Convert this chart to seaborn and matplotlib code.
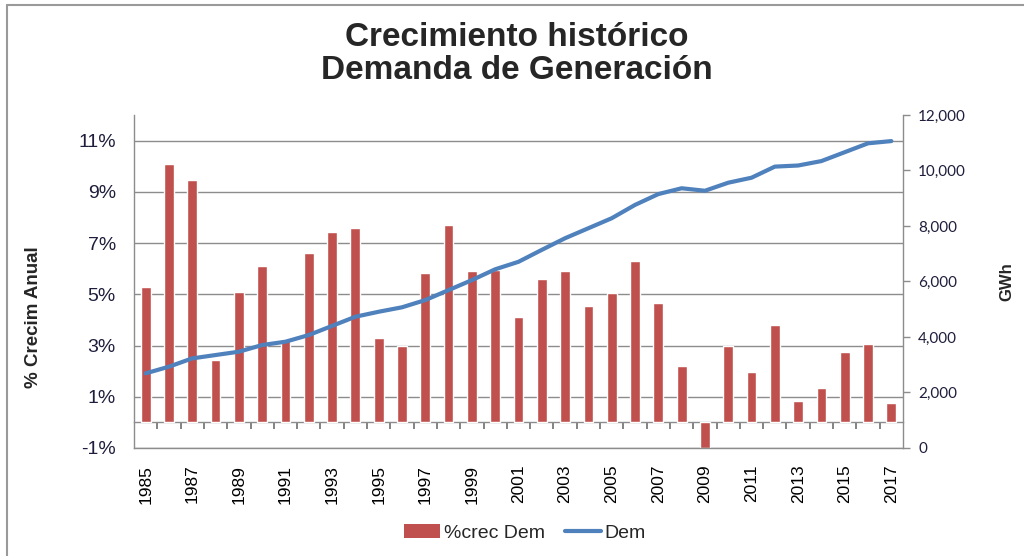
import numpy as np
import pandas as pd
import matplotlib
matplotlib.use("Agg")
import matplotlib.pyplot as plt
import seaborn as sns
from matplotlib.lines import Line2D
from matplotlib.patches import Patch
from matplotlib.ticker import FuncFormatter, FixedLocator

years = list(range(1985, 2018))
crec_pct = [5.3, 10.1, 9.45, 2.45, 5.1, 6.1, 3.2, 6.6, 7.45, 7.6, 3.3, 3.0,
            5.85, 7.7, 5.9, 5.95, 4.1, 5.6, 5.9, 4.55, 5.05, 6.3, 4.65, 2.2,
            -1.0, 3.0, 1.95, 3.8, 0.85, 1.35, 2.75, 3.05, 0.75]
dem_gwh = [2690, 2930, 3230, 3350, 3470, 3710, 3830, 4070, 4400, 4730, 4910,
           5070, 5330, 5690, 6050, 6440, 6710, 7140, 7560, 7920, 8280, 8760,
           9150, 9360, 9270, 9560, 9740, 10140, 10180, 10340, 10660, 10980, 11060]

title = "Crecimiento histórico\nDemanda de Generación"
ylabel_left = "% Crecim Anual"
ylabel_right = "GWh"
legend_labels = ["%crec Dem", "Dem"]

bar_color = "#C0504D"
line_color = "#4F81BD"
grid_color = "#8C8C8C"
tick_text = "#1E1E3C"

df = pd.DataFrame({"year": [str(y) for y in years], "crec": crec_pct,
                   "dem": dem_gwh})
df["pos"] = np.arange(len(df))

sns.set_theme(style="white")
plt.rcParams["font.family"] = ["Liberation Sans", "DejaVu Sans"]

fig = plt.figure(figsize=(10.24, 5.56), dpi=100)
ax = fig.add_axes([134 / 1024, 1 - 448 / 556, (903 - 134) / 1024, (448 - 115) / 556])

sns.barplot(data=df, x="year", y="crec", color=bar_color, saturation=1,
            width=0.42, ax=ax, zorder=2)
ax.set_ylim(-1, 12)
ax.set_xlim(-0.5, len(df) - 0.5)
ax.yaxis.set_major_locator(FixedLocator(np.arange(-1, 12, 2)))
ax.yaxis.set_major_formatter(FuncFormatter(lambda v, p: f"{v:.0f}%"))
ax.grid(axis="y", color=grid_color, linewidth=1.0, zorder=0)
ax.grid(axis="x", visible=False)
ax.set_axisbelow(True)
ax.tick_params(axis="y", length=0, pad=13, labelsize=14, labelcolor=tick_text)

ax.set_xticks(df["pos"][::2])
ax.set_xticklabels(df["year"][::2], rotation=90, ha="center", va="top",
                   fontsize=12.5, color="black")
ax.tick_params(axis="x", length=0, pad=12)
ax.set_xlabel("")
ax.set_ylabel(ylabel_left, fontsize=13.5, fontweight="bold")
ax.yaxis.set_label_coords(-(134 - 42) / 769, 1 - (317 - 115) / 333)

for s in ["left", "bottom"]:
    ax.spines[s].set_color(grid_color)
    ax.spines[s].set_linewidth(1.0)
ax.spines["top"].set_visible(False)
ax.spines["right"].set_visible(False)

# category axis crossing at 0 with tick marks between categories
sec = ax.secondary_xaxis(1 / 13)
sec.set_xticks(df["pos"][:-1] + 0.5)
sec.set_xticklabels([])
sec.tick_params(axis="x", direction="out", length=5, color="#7A7A7A", width=1.3)
sec.spines["bottom"].set_color(grid_color)
sec.spines["bottom"].set_linewidth(1.0)

ax2 = ax.twinx()
sns.lineplot(data=df, x="pos", y="dem", color=line_color, linewidth=3,
             ax=ax2, zorder=3)
ax2.set_ylim(0, 12000)
ax2.set_xlim(-0.5, len(df) - 0.5)
ax2.yaxis.set_major_locator(FixedLocator(np.arange(0, 12001, 2000)))
ax2.yaxis.set_major_formatter(FuncFormatter(lambda v, p: f"{v:,.0f}"))
ax2.tick_params(axis="y", direction="out", length=5, color=grid_color,
                width=1.0, pad=6, labelsize=11, labelcolor=tick_text)
for lab in ax2.get_yticklabels():
    lab.set_family(["Lato", "DejaVu Sans"])
ax2.set_ylabel(ylabel_right, fontsize=12, fontweight="bold")
ax2.yaxis.set_label_coords(1 + (999 - 903) / 769, 1 - (282 - 115) / 333)
ax2.grid(False)
for s in ["left", "top", "bottom"]:
    ax2.spines[s].set_visible(False)
ax2.spines["right"].set_color(grid_color)
ax2.spines["right"].set_linewidth(1.0)
ax2.set_xlabel("")

fig.text(517 / 1024, 1 - 54 / 556, title, ha="center", va="center",
         fontsize=24, fontweight="bold", linespacing=1.12)

handles = [Patch(facecolor=bar_color, edgecolor="none"),
           Line2D([0], [0], color=line_color, linewidth=3)]
fig.legend(handles, legend_labels, loc="center", bbox_to_anchor=(525 / 1024, 1 - 533 / 556),
           ncol=2, frameon=False, fontsize=14, handlelength=1.85, handletextpad=0.2,
           columnspacing=1.0)

fig.add_artist(Line2D([7 / 1024, 1], [1 - 5 / 556, 1 - 5 / 556],
                      transform=fig.transFigure, color="#9A9A9A", linewidth=1.5))
fig.add_artist(Line2D([7 / 1024, 7 / 1024], [0, 1 - 5 / 556],
                      transform=fig.transFigure, color="#9A9A9A", linewidth=1.5))

fig.savefig("out.png", dpi=100)
